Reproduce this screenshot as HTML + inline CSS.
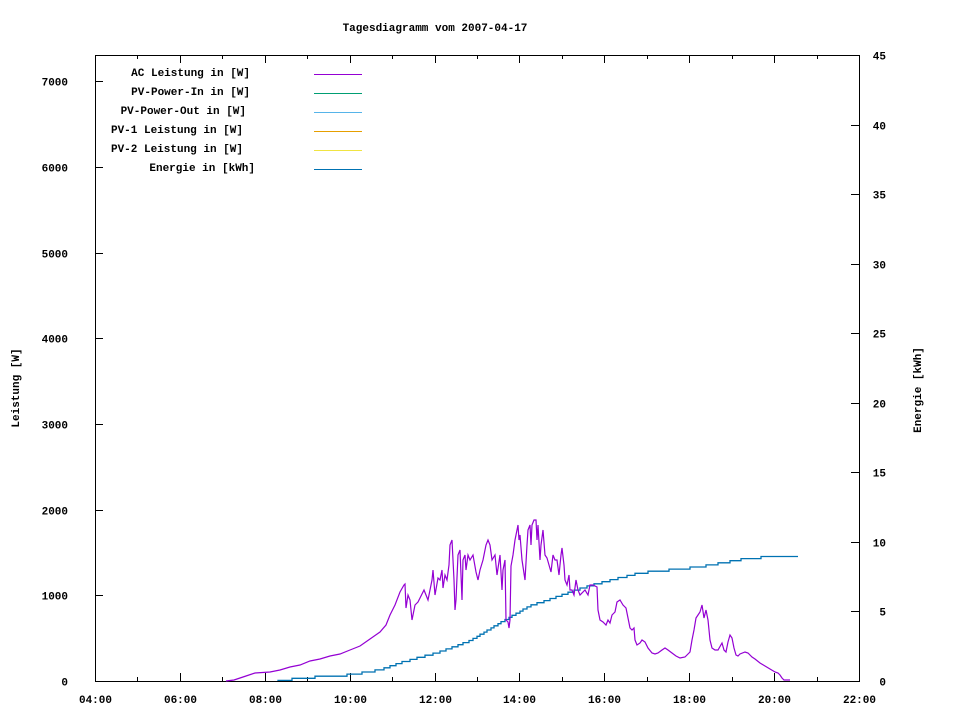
<!DOCTYPE html>
<html><head><meta charset="utf-8"><style>
body{margin:0;background:#fff}
svg text{font-family:"Liberation Mono",monospace;font-size:11px;font-weight:bold;fill:#000}
</style></head><body>
<svg id="s" width="960" height="720" xmlns="http://www.w3.org/2000/svg">
<rect width="960" height="720" fill="#fff"/>
<text x="435" y="31" text-anchor="middle">Tagesdiagramm vom 2007-04-17</text>
<rect x="95.5" y="55.5" width="764" height="626" fill="none" stroke="#000" stroke-width="1"/>
<g id="ticks" stroke="#000" stroke-width="1"></g>
<g id="labels"></g>
<text transform="translate(19,388) rotate(-90)" text-anchor="middle">Leistung [W]</text>
<text transform="translate(921,390) rotate(-90)" text-anchor="middle">Energie [kWh]</text>
<g text-anchor="end">
<text x="250" y="76">AC Leistung in [W]</text>
<text x="250" y="95">PV-Power-In in [W]</text>
<text x="246" y="114">PV-Power-Out in [W]</text>
<text x="243" y="133">PV-1 Leistung in [W]</text>
<text x="243" y="152">PV-2 Leistung in [W]</text>
<text x="255" y="171">Energie in [kWh]</text>
</g>
<g stroke-width="1">
<line x1="314" y1="74.5" x2="362" y2="74.5" stroke="#9400d3"/>
<line x1="314" y1="93.5" x2="362" y2="93.5" stroke="#009e73"/>
<line x1="314" y1="112.5" x2="362" y2="112.5" stroke="#56b4e9"/>
<line x1="314" y1="131.5" x2="362" y2="131.5" stroke="#e69f00"/>
<line x1="314" y1="150.5" x2="362" y2="150.5" stroke="#f0e442"/>
<line x1="314" y1="169.5" x2="362" y2="169.5" stroke="#0072b2"/>
</g>
<polyline id="en" fill="none" stroke="#0072b2" stroke-width="1.3" points=""/>
<polyline fill="none" stroke="#9400d3" stroke-width="1.2" points="226,681 234,680 240,678 246,676 255,673 270,672 280,670 290,667 300,665 310,661 320,659 330,656 340,654 350,650 360,646 370,639 380,632 386,625 390,615 395,605 400,592 404,585 405,584 406,608 408,595 410,600 412,620 415,605 418,602 420,598 424,590 428,600 432,580 433,570 435,595 438,578 440,580 442,570 443,588 445,575 447,580 449,565 450,545 452,540 454,580 455,610 456,600 458,555 460,550 462,600 463,560 465,555 466,570 468,555 470,560 473,555 476,572 478,580 480,570 483,560 486,545 488,540 490,545 492,560 495,555 497,575 500,555 502,590 503,570 505,560 506,620 508,622 509,628 510,620 511,566 513,555 515,540 517,530 518,525 519,540 520,535 522,560 525,580 527,545 528,530 530,525 531,545 532,525 534,520 536,520 537,540 538,525 540,560 541,545 543,530 545,555 547,558 549,565 551,572 553,555 555,560 557,560 559,575 561,555 562,548 564,565 565,580 567,585 569,575 570,590 572,590 574,595 576,580 578,590 580,595 585,590 588,595 590,585 593,585 597,587 598,610 600,620 603,622 606,625 608,620 610,623 612,615 615,612 617,602 620,600 623,605 626,608 628,618 630,628 632,630 634,628 635,640 637,645 640,643 642,640 645,642 648,648 652,653 655,654 658,653 662,650 665,648 668,650 672,653 676,656 680,658 685,657 690,652 692,640 694,630 696,618 698,615 700,612 702,605 704,618 706,610 708,620 710,640 712,648 715,650 718,650 722,643 724,650 726,652 728,642 730,635 732,638 734,648 736,655 738,656 740,654 745,652 748,653 752,657 755,659 760,663 765,666 770,669 775,672 778,673 780,675 782,678 784,680 790,680"/>
</svg>
<script>
var NS="http://www.w3.org/2000/svg",t=document.getElementById("ticks"),l=document.getElementById("labels");
function ln(a,b,c,d){var e=document.createElementNS(NS,"line");e.setAttribute("x1",a);e.setAttribute("y1",b);e.setAttribute("x2",c);e.setAttribute("y2",d);t.appendChild(e);}
function tx(x,y,s,a){var e=document.createElementNS(NS,"text");e.setAttribute("x",x);e.setAttribute("y",y);e.setAttribute("text-anchor",a);e.textContent=s;l.appendChild(e);}
for(var i=0;i<=7;i++){var y=Math.round(681-i*85.7)+0.5;ln(95,y,103,y);tx(68,y+4,String(i*1000),"end");}
for(var i=0;i<=9;i++){var y=Math.round(681-i*5*626/45)+0.5;ln(851,y,859,y);tx(886,y+4,String(i*5),"end");}
for(var h=0;h<=18;h++){var x=Math.round(95+h*764/18)+0.5,len=(h%2==0)?8:4;ln(x,681,x,681-len);ln(x,55,x,55+len);
if(h%2==0){var hh=4+h;tx(x,703,(hh<10?"0":"")+hh+":00","middle");}}
var K=[[278,681],[303,678],[349,675],[380,670],[400,663],[440,652],[470,641],[500,623],[530,606],[560,596],[580,589],[600,583],[640,573],[700,567],[750,558],[798,556]];
function f(x){for(var i=1;i<K.length;i++){if(x<=K[i][0]){var a=K[i-1],b=K[i];return a[1]+(b[1]-a[1])*(x-a[0])/(b[0]-a[0]);}}return K[K.length-1][1];}
var pts=[],py=681;pts.push("278,681");
for(var x=278;x<=798;x+=1){var y=Math.round(f(x)*0.5)/0.5;y=Math.round(f(x)/2.1)*2.1;if(Math.abs(y-py)>0.5){pts.push(x+","+py.toFixed(1));pts.push(x+","+y.toFixed(1));py=y;}}
pts.push("798,"+py.toFixed(1));
document.getElementById("en").setAttribute("points",pts.join(" "));
</script>
</body></html>
